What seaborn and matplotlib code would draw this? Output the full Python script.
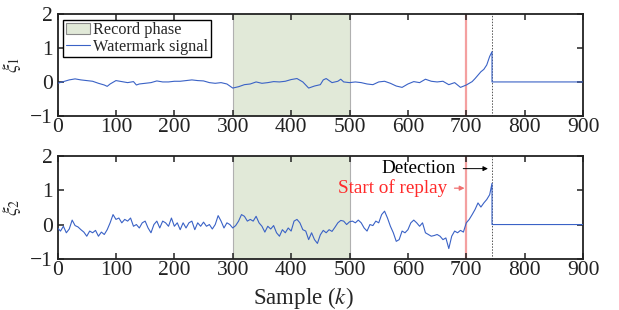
import numpy as np
import pandas as pd
import matplotlib
matplotlib.use("Agg")
import matplotlib.pyplot as plt
import seaborn as sns
from matplotlib.patches import Patch
from matplotlib.lines import Line2D

# Watermark signal, first component
k1 = [0, 10, 20, 30, 40, 50, 60, 70, 80, 85, 90, 100, 110, 120, 130, 135, 140, 150,
      160, 170, 180, 190, 200, 210, 220, 230, 240, 250, 260, 270, 280, 290, 300, 310,
      320, 330, 340, 350, 360, 370, 380, 390, 400, 410, 420, 430, 440, 450, 455, 460,
      470, 480, 485, 490, 500, 510, 520, 530, 540, 550, 560, 570, 580, 590, 600, 610,
      620, 630, 640, 650, 660, 670, 680, 690, 700, 705, 710, 715, 720, 725, 730, 735,
      740, 744, 744, 900]
xi1 = [-0.04, 0.01, 0.06, 0.09, 0.06, 0.04, 0.02, -0.04, -0.09, -0.13, -0.06, 0.04,
       0.01, -0.02, 0.01, -0.09, -0.06, -0.04, -0.02, 0.03, 0.0, 0.0, 0.02, 0.02, 0.04,
       0.06, 0.04, 0.03, -0.02, -0.04, -0.02, -0.06, -0.18, -0.14, -0.08, -0.06, 0.0,
       -0.04, -0.02, 0.01, 0.0, 0.02, 0.07, 0.1, 0.0, -0.18, -0.12, -0.08, 0.06, 0.1,
       -0.02, 0.02, 0.08, 0.0, -0.02, 0.0, -0.02, -0.06, -0.08, 0.0, 0.02, -0.04,
       -0.12, -0.16, -0.06, 0.01, -0.02, 0.08, 0.02, 0.0, 0.02, -0.08, -0.02, -0.16,
       -0.09, -0.04, 0.01, 0.1, 0.2, 0.3, 0.37, 0.5, 0.75, 0.89, 0.0, 0.0]

# Watermark signal, second component
k2 = [0, 5, 10, 15, 20, 25, 30, 35, 40, 45, 50, 55, 60, 65, 70, 75, 80, 85, 90, 95,
      100, 105, 110, 115, 120, 125, 130, 135, 140, 145, 150, 155, 160, 165, 170, 175,
      180, 185, 190, 195, 200, 205, 210, 215, 220, 225, 230, 235, 240, 245, 250, 255,
      260, 265, 270, 275, 280, 285, 290, 295, 300, 305, 310, 315, 320, 325, 330, 335,
      340, 345, 350, 355, 360, 365, 370, 375, 380, 385, 390, 395, 400, 405, 410, 415,
      420, 425, 430, 435, 440, 445, 450, 455, 460, 465, 470, 475, 480, 485, 490, 495,
      500, 505, 510, 515, 520, 525, 530, 535, 540, 545, 550, 555, 560, 565, 570, 575,
      580, 585, 590, 595, 600, 605, 610, 615, 620, 625, 630, 635, 640, 645, 650, 655,
      660, 665, 670, 675, 680, 685, 690, 695, 700, 705, 710, 715, 720, 725, 730, 735,
      740, 744, 744, 900]
xi2 = [-0.1, -0.19, -0.05, -0.24, -0.13, 0.13, -0.03, -0.07, -0.15, -0.22, -0.34,
       -0.19, -0.24, -0.17, -0.34, -0.22, -0.29, -0.15, 0.05, 0.29, 0.15, 0.19, 0.05,
       0.15, 0.1, 0.19, -0.05, 0.0, -0.1, 0.05, 0.1, -0.1, -0.24, 0.0, 0.1, -0.1, 0.1,
       0.05, -0.05, 0.19, -0.05, 0.05, -0.15, 0.05, -0.1, 0.05, 0.1, -0.15, 0.05,
       -0.05, 0.07, -0.05, 0.0, -0.13, 0.0, 0.26, 0.1, -0.1, 0.05, 0.0, -0.1, -0.03,
       0.1, 0.29, 0.24, 0.1, 0.15, 0.1, 0.24, 0.05, -0.05, -0.22, -0.05, -0.13, -0.03,
       -0.24, -0.34, -0.15, -0.24, -0.1, -0.19, 0.1, 0.15, 0.05, -0.15, -0.19, -0.44,
       -0.24, -0.44, -0.55, -0.3, -0.17, -0.24, -0.15, -0.2, -0.08, 0.05, 0.12, 0.1,
       0.0, 0.08, 0.1, 0.05, 0.13, 0.05, -0.1, -0.19, 0.0, -0.03, 0.1, 0.05, 0.29,
       0.39, 0.19, -0.05, -0.24, -0.49, -0.44, -0.19, -0.24, -0.15, 0.05, 0.13, 0.05,
       -0.05, 0.05, -0.24, -0.29, -0.34, -0.32, -0.29, -0.34, -0.44, -0.39, -0.7,
       -0.34, -0.19, -0.24, -0.17, -0.22, 0.05, 0.15, 0.29, 0.44, 0.63, 0.51, 0.63,
       0.73, 0.87, 1.2, 0.0, 0.0]

record_phase = (300, 500)
replay_start = 700
detection = 744
ylabels = [r"$\xi_1$", r"$\xi_2$"]

sns.set_style("ticks")
plt.rcParams["font.family"] = ["Liberation Serif", "DejaVu Serif"]
plt.rcParams["mathtext.fontset"] = "stix"
plt.rcParams["xtick.direction"] = "in"
plt.rcParams["ytick.direction"] = "in"

line_color = "#3a62c6"
green = "#e1e9d8"

fig = plt.figure(figsize=(6.19, 3.10), dpi=100)
ax1 = fig.add_axes([0.093, 0.626, 0.849, 0.329])
ax2 = fig.add_axes([0.093, 0.165, 0.849, 0.332])

frames = [pd.DataFrame({"k": k1, "xi": xi1}), pd.DataFrame({"k": k2, "xi": xi2})]

for ax, df, lab in zip([ax1, ax2], frames, ylabels):
    ax.set_axisbelow(False)
    ax.axvspan(*record_phase, facecolor=green, edgecolor="none", zorder=0)
    for xv in record_phase:
        ax.axvline(xv, color="#b0b0b0", lw=0.8, zorder=0.6)
    ax.axvline(replay_start, color="#f4a0a0", lw=1.6, zorder=0.7)
    ax.axvline(detection, color="#555555", lw=0.7, ls=(0, (1.5, 1.5)), zorder=0.7)
    sns.lineplot(data=df, x="k", y="xi", ax=ax, color=line_color, lw=0.8,
                 estimator=None, sort=False, zorder=3)
    ax.set_xlim(0, 900)
    ax.set_ylim(-1, 2)
    ax.set_xticks(range(0, 901, 100))
    ax.set_yticks([-1, 0, 1, 2])
    ax.tick_params(axis="both", which="both", top=True, right=True, labelsize=15.5,
                   length=4, width=1.1, labelright=False, labeltop=False,
                   colors="#222222")
    ax.tick_params(axis="x", pad=1.5)
    ax.tick_params(axis="y", pad=3.5)
    ax.set_xlabel("")
    ax.set_ylabel(lab, fontsize=14)
    ax.yaxis.set_label_coords(-0.065, 0.5)
    for sp in ax.spines.values():
        sp.set_linewidth(1.3)
        sp.set_color("#222222")

ax2.set_xlabel("Sample ($k$)", fontsize=16.5, labelpad=0)
ax2.xaxis.set_label_coords(0.467, -0.25)

handles = [Patch(facecolor=green, edgecolor="#888888", lw=0.8, label="Record phase"),
           Line2D([], [], color=line_color, lw=0.8, label="Watermark signal")]
leg = ax1.legend(handles=handles, loc="upper left", fontsize=11.7, frameon=True,
                 fancybox=False, framealpha=1, edgecolor="black", borderpad=0.15,
                 labelspacing=0.05, handlelength=1.5, handletextpad=0.2,
                 borderaxespad=0.35)
leg.get_frame().set_linewidth(1.0)

ax2.annotate("Detection", xy=(737, 1.63), xytext=(682, 1.63), fontsize=13.8,
             color="black", ha="right", va="center",
             arrowprops=dict(arrowstyle="-|>", color="black", lw=0.7,
                             mutation_scale=7, shrinkA=3, shrinkB=0))
ax2.annotate("Start of replay", xy=(697, 1.06), xytext=(667, 1.06), fontsize=13.8,
             color="#ff2a2a", ha="right", va="center",
             arrowprops=dict(arrowstyle="-|>", color="#f07070", lw=0.9,
                             mutation_scale=7, shrinkA=3, shrinkB=0))

fig.savefig("out.png", dpi=100)
